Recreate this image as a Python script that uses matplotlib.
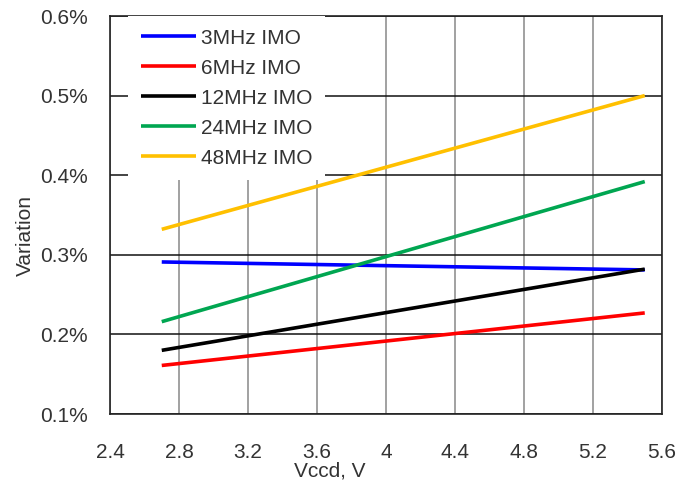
import numpy as np
import matplotlib.pyplot as plt
from matplotlib.ticker import FuncFormatter

plt.rcParams['font.family'] = ['Liberation Sans', 'DejaVu Sans']

# supply voltage (V) and IMO frequency variation (%)
vccd = [2.7, 5.5]
labels = ['3MHz IMO', '6MHz IMO', '12MHz IMO', '24MHz IMO', '48MHz IMO']
var_3mhz = [0.291, 0.281]
var_6mhz = [0.161, 0.227]
var_12mhz = [0.180, 0.282]
var_24mhz = [0.216, 0.392]
var_48mhz = [0.332, 0.500]
colors = ['#0000ff', '#ff0000', '#000000', '#00a651', '#ffc000']

xticks = [2.4, 2.8, 3.2, 3.6, 4.0, 4.4, 4.8, 5.2, 5.6]
yticks = [0.1, 0.2, 0.3, 0.4, 0.5, 0.6]

W, H = 696, 487
fig = plt.figure(figsize=(W / 100, H / 100), dpi=100)
ax = fig.add_axes([110 / W, 1 - 414 / H, 552 / W, 398 / H])

series = [var_3mhz, var_6mhz, var_12mhz, var_24mhz, var_48mhz]
for vals, lab, c in zip(series, labels, colors):
    ax.plot(vccd, vals, color=c, lw=2.6, label=lab, solid_capstyle='butt', zorder=3)

ax.set_xlim(2.4, 5.6)
ax.set_ylim(0.1, 0.6)
ax.set_xticks(xticks)
ax.set_yticks(yticks)
ax.xaxis.set_major_formatter(FuncFormatter(lambda v, p: ('%.1f' % v).rstrip('0').rstrip('.')))
ax.yaxis.set_major_formatter(FuncFormatter(lambda v, p: '%.1f%%' % v))

ax.grid(axis='x', color='#888888', lw=1.1)
ax.grid(axis='y', color='#111111', lw=1.1)
ax.set_axisbelow(True)
for s in ax.spines.values():
    s.set_color('#222222')
    s.set_linewidth(1.2)

ax.tick_params(length=0, labelsize=15, colors='#333333')
ax.tick_params(axis='x', pad=21)
ax.tick_params(axis='y', pad=16)
ax.set_xlabel('Vccd, V', fontsize=15, color='#333333')
ax.set_ylabel('Variation', fontsize=15, color='#333333')
# axis titles sit off-centre in the original
ax.xaxis.set_label_coords((330 - 110) / 552, -(471 - 414) / 398, transform=ax.transAxes)
ax.xaxis.label.set_va('center')
ax.yaxis.set_label_coords(-(110 - 25) / 552, (414 - 235) / 398, transform=ax.transAxes)
ax.yaxis.label.set_va('center')

leg = ax.legend(loc='upper left', bbox_to_anchor=((128 - 110) / 552, 1.0), frameon=True,
                fontsize=15, handlelength=2.65, handletextpad=0.25,
                labelspacing=0.53, borderpad=0.6, borderaxespad=0.0)
leg.get_frame().set_facecolor('white')
leg.get_frame().set_edgecolor('none')
leg.get_frame().set_alpha(1.0)
leg.get_frame().set_boxstyle('square', pad=0)
leg.set_zorder(5)
for t in leg.get_texts():
    t.set_color('#333333')

fig.savefig('out.png', dpi=100)
